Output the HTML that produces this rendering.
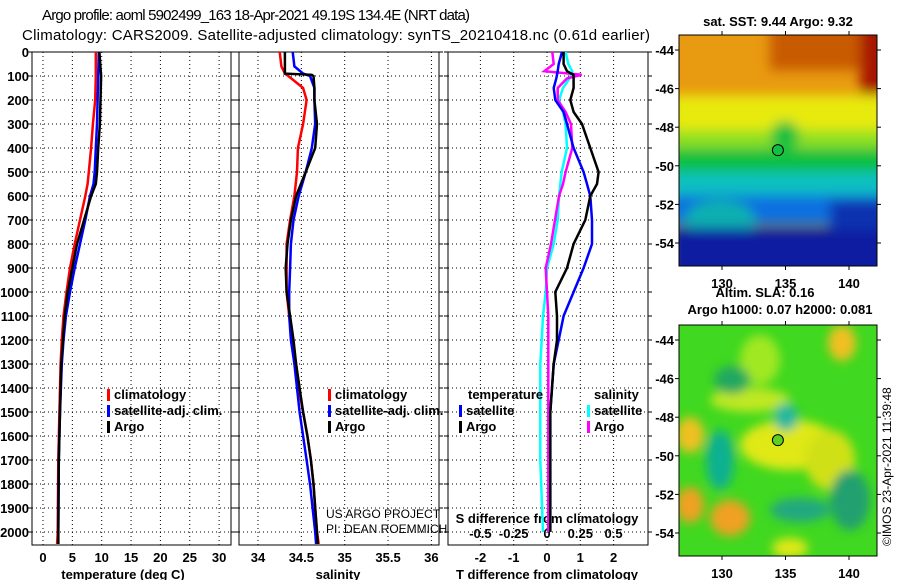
<!DOCTYPE html>
<html><head><meta charset="utf-8"><style>
html,body{margin:0;padding:0;background:#fff;}
svg{display:block;font-family:"Liberation Sans",Arial,sans-serif;}
.b{font-weight:bold;font-size:13px;}
.n{font-weight:normal;font-size:12px;}
.t{font-size:15px;font-family:"Liberation Sans Narrow","Liberation Sans",sans-serif;}
</style></head><body>
<svg id="c" width="900" height="580" viewBox="0 0 900 580" xmlns="http://www.w3.org/2000/svg">
<defs>
<filter id="bl" x="-20%" y="-20%" width="140%" height="140%"><feGaussianBlur stdDeviation="6"/></filter>
<filter id="bl2" x="-20%" y="-20%" width="140%" height="140%"><feGaussianBlur stdDeviation="5"/></filter>
<clipPath id="m1"><rect x="679" y="35" width="198" height="231"/></clipPath>
<clipPath id="m2"><rect x="679" y="325" width="198" height="231"/></clipPath>
</defs>
<text class="t" x="42" y="20" textLength="428">Argo profile: aoml 5902499_163 18-Apr-2021 49.19S 134.4E (NRT data)</text>
<text class="t" x="22" y="40" textLength="628">Climatology: CARS2009. Satellite-adjusted climatology: synTS_20210418.nc (0.61d earlier)</text>

<g id="maps">
<g clip-path="url(#m1)">
<rect x="679" y="35" width="198" height="231" fill="#e89a10"/>
<g filter="url(#bl)">
<rect x="770" y="20" width="120" height="50" fill="#c85a00"/>
<rect x="860" y="20" width="30" height="80" fill="#a81800"/>
<rect x="670" y="95" width="220" height="45" fill="#e8ea10"/>
<rect x="670" y="130" width="220" height="30" fill="#90e020"/>
<rect x="670" y="148" width="220" height="25" fill="#10c040"/>
<ellipse cx="785" cy="135" rx="14" ry="14" fill="#10c040"/>
<ellipse cx="730" cy="165" rx="40" ry="15" fill="#10c040"/>
<rect x="670" y="172" width="220" height="25" fill="#10c0c0"/>
<rect x="670" y="195" width="220" height="30" fill="#1070e0"/>
<ellipse cx="720" cy="220" rx="35" ry="20" fill="#10b0b0"/>
<rect x="670" y="228" width="220" height="50" fill="#0a1aa0"/>
<rect x="830" y="200" width="60" height="30" fill="#0a30b0"/>
</g>
</g>
<rect x="679" y="35" width="198" height="231" fill="none" stroke="#000"/>
<g clip-path="url(#m2)">
<rect x="679" y="325" width="198" height="231" fill="#40d820"/>
<g filter="url(#bl2)">
<ellipse cx="842" cy="343" rx="14" ry="18" fill="#f0c020"/>
<ellipse cx="760" cy="360" rx="20" ry="25" fill="#a0e820"/>
<ellipse cx="750" cy="400" rx="40" ry="12" fill="#c0e820"/>
<ellipse cx="790" cy="445" rx="50" ry="25" fill="#e0e818"/>
<ellipse cx="830" cy="460" rx="25" ry="30" fill="#d0e018"/>
<ellipse cx="690" cy="435" rx="14" ry="18" fill="#f0c020"/>
<ellipse cx="786" cy="417" rx="12" ry="14" fill="#20b8a0"/>
<ellipse cx="720" cy="460" rx="14" ry="30" fill="#10b090"/>
<ellipse cx="732" cy="380" rx="18" ry="14" fill="#20a860"/>
<ellipse cx="690" cy="505" rx="14" ry="18" fill="#f0a020"/>
<ellipse cx="730" cy="518" rx="20" ry="18" fill="#f0a020"/>
<ellipse cx="800" cy="510" rx="30" ry="12" fill="#20a880"/>
<ellipse cx="850" cy="500" rx="20" ry="30" fill="#20a070"/>
<ellipse cx="790" cy="548" rx="18" ry="10" fill="#e0e818"/>
</g>
</g>
<rect x="679" y="325" width="198" height="231" fill="none" stroke="#000"/>
<text class="b" x="778" y="26" text-anchor="middle">sat. SST: 9.44 Argo: 9.32</text>
<text class="b" x="765" y="297" text-anchor="middle">Altim. SLA: 0.16</text>
<text class="b" x="780" y="314" text-anchor="middle">Argo h1000: 0.07 h2000: 0.081</text>
<text x="891" y="546" font-size="12" transform="rotate(-90 891 546)">©IMOS 23-Apr-2021 11:39:48</text>
</g>
</svg>
<script>
// ---- data ----
const depthT = [0,100,200,300,400,500,550,600,700,800,900,1000,1100,1200,1300,1500,1700,2000,2050];
const tempClim = [9.0,9.0,8.9,8.5,8.2,7.8,7.6,7.2,6.3,5.4,4.6,4.0,3.5,3.2,3.0,2.8,2.6,2.5,2.4];
const tempSat  = [9.5,9.4,9.3,9.2,9.0,8.8,8.6,8.0,7.2,6.3,5.4,4.6,3.9,3.5,3.2,2.9,2.7,2.6,2.6];
const tempArgo = [9.6,9.9,9.8,9.7,9.4,9.2,9.0,8.2,7.0,5.8,5.0,4.2,3.7,3.4,3.1,2.9,2.7,2.6,2.6];

const depthS = [0,60,90,95,100,150,200,300,400,500,600,700,800,900,1000,1100,1200,1300,1400,1500,1600,1700,1800,1900,2000,2050];
const salClim = [34.25,34.27,34.31,34.33,34.35,34.52,34.56,34.52,34.46,34.45,34.42,34.37,34.33,34.33,34.33,34.36,34.40,34.44,34.47,34.52,34.57,34.61,34.64,34.66,34.68,34.70];
const salSat  = [34.40,34.42,34.52,34.56,34.60,34.65,34.65,34.66,34.62,34.55,34.47,34.41,34.38,34.37,34.36,34.36,34.38,34.42,34.45,34.48,34.52,34.56,34.60,34.63,34.66,34.67];
const salArgo = [34.31,34.31,34.31,34.62,34.64,34.65,34.65,34.68,34.66,34.55,34.44,34.38,34.34,34.32,34.33,34.37,34.41,34.44,34.48,34.52,34.57,34.61,34.64,34.66,34.68,34.69];

const depthD = [0,50,80,95,110,150,200,250,300,400,500,550,600,700,800,900,1000,1100,1200,1300,1400,1500,1700,2000];
const dTArgo = [0.5,0.5,0.6,0.8,0.8,0.8,0.7,0.8,1.05,1.3,1.55,1.5,1.3,1.15,0.8,0.6,0.25,0.3,0.3,0.2,0.15,0.1,0.1,0.1];
const dTSat  = [0.45,0.35,0.32,0.3,0.28,0.2,0.25,0.5,0.6,0.8,1.1,1.2,1.3,1.35,1.35,1.1,0.8,0.5,0.35,0.2,0.15,0.1,0.1,0.1];
const dSSat  = [0.14,0.16,0.19,0.18,0.17,0.12,0.09,0.12,0.14,0.15,0.11,0.1,0.09,0.08,0.05,0.0,-0.01,-0.03,-0.04,-0.05,-0.05,-0.05,-0.05,-0.03];
const dSArgo = [0.04,0.05,-0.02,0.26,0.15,0.08,0.08,0.14,0.18,0.19,0.14,0.12,0.09,0.06,0.03,-0.01,0.0,0.01,0.01,0.01,0.01,0.01,0.01,0.01];

const depthTicks = [0,100,200,300,400,500,600,700,800,900,1000,1100,1200,1300,1400,1500,1600,1700,1800,1900,2000];
const tempTicks = [0,5,10,15,20,25,30];
const salTicks = [34,34.5,35,35.5,36];
const salTickLabels = ["34","34.5","35","35.5","36"];
const dTTicks = [-2,-1,0,1,2];
const dSTicks = [-0.5,-0.25,0,0.25,0.5];

// ---- axes ----
const TOP=52, BOT=545;
const yD = d => TOP + d*0.24;
const xT = v => 43 + v*5.87;
const xS = v => 258 + (v-34)*86.7;
const xDT = v => 547 + v*33.3;
const xDS = v => 547 + v*133.2;

const svg = document.getElementById('c');
const NS = 'http://www.w3.org/2000/svg';
function mk(tag, attrs, parent){
  const e = document.createElementNS(NS, tag);
  for (const k in attrs) e.setAttribute(k, attrs[k]);
  (parent||svg).appendChild(e);
  return e;
}
function txt(x,y,s,anchor,cls,parent){
  const t = mk('text',{x:x,y:y,'text-anchor':anchor||'start','class':cls||'b'},parent);
  t.textContent = s;
  return t;
}

function panel(name, x0, x1, xTicksPos){
  const g = mk('g',{});
  
  
  depthTicks.forEach(d=>{
    mk('line',{x1:x0,x2:x1,y1:yD(d),y2:yD(d),stroke:'#000','stroke-dasharray':'1,3','stroke-width':1},g);
    mk('line',{x1:x0-4,x2:x0,y1:yD(d),y2:yD(d),stroke:'#000'},g);
    mk('line',{x1:x1,x2:x1+4,y1:yD(d),y2:yD(d),stroke:'#000'},g);
  });
  xTicksPos.forEach(x=>{
    mk('line',{x1:x,x2:x,y1:TOP,y2:BOT,stroke:'#000','stroke-dasharray':'1,3'},g);
  });
  mk('rect',{x:x0,y:TOP,width:x1-x0,height:BOT-TOP,fill:'none',stroke:'#000'},g);
  return g;
}
function line(g, xs, ds, fx, color, name){
  const pts = xs.map((v,i)=>fx(v).toFixed(1)+','+yD(ds[i]).toFixed(1)).join(' ');
  const p = mk('polyline',{points:pts,fill:'none',stroke:color,'stroke-width':2.5},g);
  
  
}
function legend(g, x, y, items){
  items.forEach((it,i)=>{
    mk('rect',{x:x,y:y+i*16-10,width:3,height:12,fill:it[1]},g);
    txt(x+7,y+i*16,it[0],'start','b',g);
  });
}

const dl = mk('g',{});


depthTicks.forEach(d=>txt(29, yD(d)+5, String(d), 'end', 'b', dl));

// Temperature panel
const g1 = panel('temperature-panel', 32, 231, tempTicks.map(xT));
tempTicks.forEach(v=>txt(xT(v), 562, String(v), 'middle','b',g1));
txt(123, 579, 'temperature (deg C)', 'middle','b',g1);
line(g1, tempClim, depthT, xT, '#f00', 'temp-climatology-line');
line(g1, tempSat, depthT, xT, '#00f', 'temp-satellite-line');
line(g1, tempArgo, depthT, xT, '#000', 'temp-argo-line');
legend(g1, 107, 399, [['climatology','#f00'],['satellite-adj. clim.','#00f'],['Argo','#000']]);

// Salinity panel
const g2 = panel('salinity-panel', 239, 439, salTicks.map(xS));
salTicks.forEach((v,i)=>txt(xS(v), 562, salTickLabels[i], 'middle','b',g2));
txt(338, 579, 'salinity', 'middle','b',g2);
line(g2, salClim, depthS, xS, '#f00', 'sal-climatology-line');
line(g2, salSat, depthS, xS, '#00f', 'sal-satellite-line');
line(g2, salArgo, depthS, xS, '#000', 'sal-argo-line');
legend(g2, 328, 399, [['climatology','#f00'],['satellite-adj. clim.','#00f'],['Argo','#000']]);
txt(326, 518, 'US ARGO PROJECT', 'start', 'n', g2);
txt(326, 533, 'PI: DEAN ROEMMICH', 'start', 'n', g2);

// Difference panel
const g3 = panel('difference-panel', 448, 648, dTTicks.map(xDT));
dTTicks.forEach(v=>txt(xDT(v), 562, String(v), 'middle','b',g3));
dSTicks.forEach(v=>txt(xDS(v), 538, String(v), 'middle','b',g3));
txt(547, 523, 'S difference from climatology', 'middle','b',g3);
txt(547, 579, 'T difference from climatology', 'middle','b',g3);
line(g3, dSSat, depthD, xDS, '#0ff', 'sal-diff-satellite-line');
line(g3, dSArgo, depthD, xDS, '#f0f', 'sal-diff-argo-line');
line(g3, dTSat, depthD, xDT, '#00f', 'temp-diff-satellite-line');
line(g3, dTArgo, depthD, xDT, '#000', 'temp-diff-argo-line');
txt(468, 399, 'temperature', 'start','b',g3);
legend(g3, 459, 415, [['satellite','#00f'],['Argo','#000']]);
txt(594, 399, 'salinity', 'start','b',g3);
legend(g3, 587, 415, [['satellite','#0ff'],['Argo','#f0f']]);

// Map axes
const lonTicks=[130,135,140];
const latTicks=[-44,-46,-48,-50,-52,-54];
const xLon = v => 722 + (v-130)*12.7;
const yLat = (v,off) => off + 50 + (-44 - v)*19.3;
[0,290].forEach((off,k)=>{
  const g = mk('g',{});
  
  
  latTicks.forEach(v=>{
    mk('line',{x1:675,x2:679,y1:yLat(v,off),y2:yLat(v,off),stroke:'#000'},g);
    mk('line',{x1:877,x2:881,y1:yLat(v,off),y2:yLat(v,off),stroke:'#000'},g);
    txt(674, yLat(v,off)+5, String(v), 'end','b',g);
  });
  lonTicks.forEach(v=>{
    mk('line',{x1:xLon(v),x2:xLon(v),y1:off+31,y2:off+35,stroke:'#000'},g);
    mk('line',{x1:xLon(v),x2:xLon(v),y1:off+266,y2:off+270,stroke:'#000'},g);
    txt(xLon(v), off+288, String(v), 'middle','b',g);
  });
  const c = mk('circle',{cx:xLon(134.4),cy:yLat(-49.19,off),r:5.5,fill:k?'#60d020':'#10c040',stroke:'#000'},g);
  
  
});
</script>
</body></html>
